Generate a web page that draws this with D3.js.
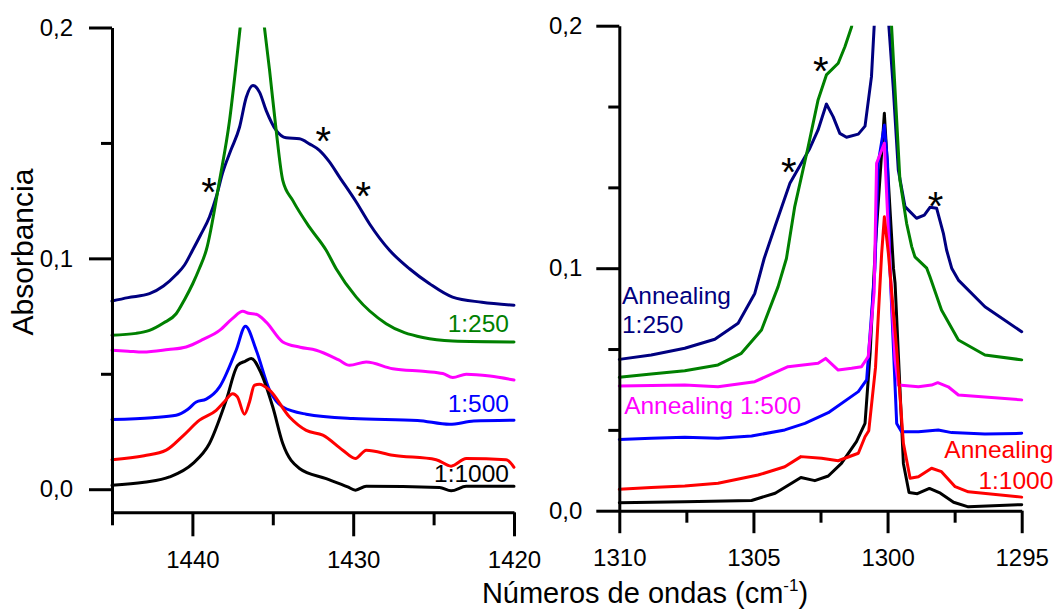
<!DOCTYPE html>
<html>
<head>
<meta charset="utf-8">
<script src="https://cdn.jsdelivr.net/npm/d3@7"></script>
<style>
  html, body { margin: 0; padding: 0; background: #fff; }
  svg { display: block; }
  text { font-family: "Liberation Sans", Arial, sans-serif; }
</style>
</head>
<body>
<svg id="chart" width="1054" height="610"></svg>
<script>
// ---------------- DATA ----------------
// Left panel: wavenumber (cm-1), absorbance
const leftNavy = [[1445,0.0815],[1444,0.083],[1442.67,0.0847],[1441.8,0.088],[1441.0,0.093],[1440.5,0.097],[1439.99,0.1035],[1439.5,0.110],[1438.94,0.1179],[1438.5,0.127],[1438.13,0.1368],[1437.6,0.147],[1437.07,0.1568],[1436.65,0.1698],[1436.24,0.1749],[1435.83,0.172],[1435.41,0.164],[1434.79,0.1554],[1434.17,0.1522],[1433.34,0.1518],[1432.7,0.1495],[1432.1,0.1468],[1431.5,0.142],[1430.85,0.1352],[1429.81,0.1244],[1428.99,0.115],[1427.74,0.1035],[1426.5,0.0955],[1425.25,0.089],[1423.82,0.0832],[1422,0.081],[1420,0.0797]];
const leftGreen = [[1445,0.0667],[1443.5,0.0675],[1442.67,0.0688],[1441.8,0.072],[1441.01,0.076],[1440.5,0.082],[1439.98,0.089],[1439.56,0.0957],[1439.14,0.1035],[1438.31,0.1338],[1437.69,0.1597],[1437.28,0.184],[1437.03,0.2],[1436.25,0.25],[1435.52,0.2],[1435.2,0.1814],[1434.79,0.1554],[1434.38,0.1338],[1433.76,0.1251],[1432.72,0.1135],[1431.68,0.1035],[1431.06,0.0955],[1429.81,0.0832],[1427.95,0.0717],[1425.67,0.0657],[1423.81,0.0642],[1420,0.0638]];
const leftMagenta = [[1445,0.0602],[1444,0.0598],[1443.08,0.0594],[1441.5,0.0605],[1440.39,0.0616],[1439.3,0.065],[1438.31,0.0688],[1437.5,0.074],[1436.87,0.0771],[1436.5,0.0762],[1436.03,0.0758],[1435.41,0.0724],[1434.38,0.0638],[1433.3,0.0615],[1432.3,0.0602],[1430.9,0.056],[1430.23,0.0537],[1429.19,0.0551],[1427.54,0.0522],[1425.5,0.051],[1424.43,0.0501],[1423.81,0.0484],[1422.97,0.0498],[1421.5,0.049],[1420,0.0473]];
const leftBlue = [[1445,0.0302],[1442.5,0.031],[1441.01,0.032],[1440.3,0.0345],[1439.76,0.0378],[1439.14,0.039],[1438.31,0.0443],[1437.28,0.0602],[1436.7,0.0706],[1436.03,0.0602],[1435.2,0.0429],[1434.38,0.0356],[1432.92,0.0325],[1430.03,0.0306],[1426,0.0298],[1424.01,0.0281],[1422.5,0.0295],[1420,0.0299]];
const leftRed = [[1445,0.0128],[1443,0.0145],[1441.63,0.0169],[1440.6,0.023],[1439.56,0.0299],[1438.52,0.0342],[1438.0,0.038],[1437.49,0.0414],[1437.2,0.04],[1436.76,0.0325],[1436.45,0.0378],[1436.15,0.045],[1435.83,0.0455],[1435.2,0.0429],[1433.96,0.0313],[1432.92,0.0255],[1431.89,0.0234],[1430.65,0.0169],[1429.86,0.0133],[1429.19,0.0169],[1427.54,0.0147],[1424.84,0.0128],[1423.91,0.01],[1422.97,0.0133],[1420.49,0.0128],[1420,0.0095]];
const leftBlack = [[1445,0.0017],[1443,0.003],[1441.42,0.0053],[1439.98,0.0111],[1438.94,0.0198],[1437.9,0.0385],[1437.18,0.0537],[1436.7,0.0555],[1436.34,0.0566],[1435.72,0.0501],[1435.0,0.0356],[1434.38,0.0198],[1433.34,0.009],[1431.68,0.0046],[1430.34,0.001],[1429.86,-0.0004],[1429.19,0.0013],[1424.63,0.0007],[1423.91,-0.0007],[1422.97,0.0013],[1420,0.0013]];

// Right panel
const rightNavy = [[1310,0.0624],[1308.81,0.0642],[1307.56,0.067],[1306.44,0.0707],[1305.57,0.0773],[1304.95,0.0896],[1304.6,0.104],[1304.2,0.1171],[1303.64,0.135],[1302.9,0.1494],[1302.59,0.157],[1302.28,0.1677],[1302.03,0.1625],[1301.78,0.1556],[1301.53,0.154],[1301.09,0.1553],[1300.84,0.1586],[1300.6,0.179],[1300.5,0.1996],[1300.25,0.25],[1299.95,0.1996],[1299.79,0.1748],[1299.6,0.1405],[1299.35,0.1254],[1298.92,0.1206],[1298.63,0.1219],[1298.42,0.1251],[1298.17,0.1247],[1297.92,0.1144],[1297.8,0.1075],[1297.61,0.1],[1297.36,0.0951],[1296.37,0.0841],[1295,0.0738]];
const rightGreen = [[1310,0.055],[1308.81,0.0564],[1307.56,0.0577],[1306.32,0.0601],[1305.45,0.0649],[1304.7,0.0745],[1304.08,0.0924],[1303.77,0.104],[1303.46,0.1254],[1302.96,0.1501],[1302.59,0.1694],[1302.28,0.1797],[1301.84,0.1845],[1301.59,0.1913],[1301.34,0.1996],[1300.3,0.3],[1299.85,0.1996],[1299.66,0.1611],[1299.54,0.1364],[1299.29,0.1185],[1299.1,0.1089],[1298.98,0.1047],[1298.54,0.1],[1298.42,0.0965],[1297.99,0.0828],[1297.36,0.0704],[1296.37,0.0642],[1295,0.0622]];
const rightMagenta = [[1310,0.0514],[1308.8,0.0516],[1307.56,0.0518],[1306.32,0.0511],[1304.95,0.0532],[1303.71,0.0594],[1302.59,0.0608],[1302.31,0.0628],[1301.84,0.058],[1301.34,0.0587],[1300.97,0.0594],[1300.72,0.0635],[1300.5,0.09],[1300.41,0.1433],[1300.12,0.1515],[1299.91,0.1],[1299.72,0.0621],[1299.6,0.0518],[1298.85,0.0511],[1298.36,0.0518],[1298.13,0.0528],[1297.74,0.0511],[1297.36,0.0477],[1295,0.0457]];
const rightBlue = [[1310,0.0294],[1308.81,0.0299],[1307.56,0.0303],[1306.32,0.0299],[1305.07,0.0308],[1303.83,0.0333],[1303.08,0.036],[1302.21,0.0404],[1301.09,0.0491],[1300.78,0.0539],[1300.47,0.1],[1300.35,0.1433],[1300.12,0.159],[1300.0,0.1433],[1299.91,0.1],[1299.66,0.036],[1299.48,0.0326],[1298.85,0.0326],[1298.11,0.0333],[1297.61,0.0322],[1296.37,0.0316],[1295,0.0319]];
const rightBlack = [[1310,0.0033],[1307.56,0.0037],[1305.07,0.0042],[1304.19,0.0072],[1303.58,0.0113],[1303.23,0.0137],[1302.71,0.0124],[1302.21,0.0143],[1301.72,0.0195],[1301.16,0.0285],[1300.84,0.036],[1300.65,0.065],[1300.45,0.11],[1300.12,0.1639],[1299.78,0.1],[1299.72,0.0938],[1299.41,0.0195],[1299.2,0.0075],[1298.89,0.007],[1298.44,0.0092],[1298.03,0.0072],[1297.54,0.0035],[1296.99,0.0016],[1295,0.0025]];
const rightRed = [[1310,0.0088],[1308.81,0.0096],[1307.56,0.0102],[1306.32,0.0113],[1304.83,0.0147],[1303.83,0.0181],[1303.23,0.0223],[1302.46,0.0216],[1301.84,0.0206],[1301.09,0.0237],[1300.84,0.0305],[1300.7,0.033],[1300.45,0.059],[1300.22,0.1061],[1300.12,0.1212],[1299.97,0.1061],[1299.66,0.0663],[1299.41,0.0278],[1299.16,0.0134],[1298.85,0.014],[1298.36,0.0175],[1297.99,0.0161],[1297.48,0.0099],[1296.99,0.0078],[1295,0.0056]];

// Axis ticks
const leftXMajor = [1440, 1430, 1420];
const leftXMinor = [1445, 1435, 1425];
const leftYMajor = [0, 0.1, 0.2];
const leftYMinor = [0.05, 0.15];
const rightXMajor = [1310, 1305, 1300, 1295];
const rightXMinor = [1307.5, 1302.5, 1297.5];
const rightYMajor = [0, 0.1, 0.2];
const rightYMinor = [0.2/6, 0.4/6, 0.8/6, 1.0/6];

// Labels (text, wavenumber, absorbance, anchor)
const leftLabels = [
  {t: "1:250", wn: 1420.31, a: 0.0682, c: "green", anchor: "end"},
  {t: "1:500", wn: 1420.31, a: 0.0336, c: "blue", anchor: "end"},
  {t: "1:1000", wn: 1420.31, a: 0.0032, c: "black", anchor: "end"}
];
const rightLabels = [
  {t: "Annealing", wn: 1309.9, a: 0.0852, c: "navy", anchor: "start"},
  {t: "1:250", wn: 1309.9, a: 0.0734, c: "navy", anchor: "start"},
  {t: "Annealing 1:500", wn: 1309.82, a: 0.0398, c: "magenta", anchor: "start"},
  {t: "Annealing", wn: 1293.82, a: 0.0216, c: "red", anchor: "end"},
  {t: "1:1000", wn: 1293.82, a: 0.0089, c: "red", anchor: "end"}
];
const leftStars = [[1438.97, 0.1325], [1431.86, 0.1549], [1429.37, 0.131]];
const rightStars = [[1303.68, 0.1435], [1302.49, 0.1852], [1298.21, 0.1292]];

const colors = {navy: "#000080", green: "#008000", magenta: "#ff00ff", blue: "#0000ff", red: "#ff0000", black: "#000000"};

// ---------------- DRAW ----------------
const svg = d3.select("#chart");
svg.append("rect").attr("width", 1054).attr("height", 610).attr("fill", "#fff");

const panels = [
  {
    id: "L",
    x: d3.scaleLinear().domain([1445, 1420]).range([112, 514]),
    y: d3.scaleLinear().domain([-0.01, 0.2]).range([512.3, 27.5]),
    series: [["navy", leftNavy], ["green", leftGreen], ["magenta", leftMagenta], ["blue", leftBlue], ["black", leftBlack], ["red", leftRed]],
    curve: d3.curveMonotoneX,
    xMajor: leftXMajor, xMinor: leftXMinor, yMajor: leftYMajor, yMinor: leftYMinor,
    xMajorLen: 24, xMinorLen: 13, yPad: 16, xPad: 15,
    labels: leftLabels, stars: leftStars
  },
  {
    id: "R",
    x: d3.scaleLinear().domain([1310, 1295]).range([619.3, 1021.7]),
    y: d3.scaleLinear().domain([0, 0.2]).range([510.7, 25.7]),
    series: [["navy", rightNavy], ["green", rightGreen], ["black", rightBlack], ["blue", rightBlue], ["magenta", rightMagenta], ["red", rightRed]],
    curve: d3.curveLinear,
    xMajor: rightXMajor, xMinor: rightXMinor, yMajor: rightYMajor, yMinor: rightYMinor,
    xMajorLen: 22.5, xMinorLen: 12, yPad: 14, xPad: 16,
    labels: rightLabels, stars: rightStars
  }
];

const fmt = d => d.toFixed(1).replace(".", ",");

panels.forEach(p => {
  const [x0, x1] = p.x.range();
  const [yb, yt] = p.y.range();
  const clipId = "clip" + p.id;
  svg.append("clipPath").attr("id", clipId)
    .append("rect").attr("x", x0 - 5).attr("y", yt).attr("width", x1 - x0 + 10).attr("height", yb - yt + 5);

  const g = svg.append("g").attr("clip-path", `url(#${clipId})`);
  const line = d3.line().x(d => p.x(d[0])).y(d => p.y(d[1])).curve(p.curve);
  p.series.forEach(([c, data]) => {
    const sorted = data.slice().sort((a, b) => a[0] - b[0]);
    g.append("path").attr("d", line(sorted))
      .attr("fill", "none").attr("stroke", colors[c])
      .attr("stroke-width", 3).attr("stroke-linejoin", "round").attr("stroke-linecap", "round");
  });

  // axes
  const styleAxis = sel => {
    sel.selectAll("path.domain").attr("stroke", "#000").attr("stroke-width", 3);
    sel.selectAll(".tick line").attr("stroke", "#000").attr("stroke-width", 3);
    sel.selectAll(".tick text").attr("fill", "#000").style("font-size", "24px")
      .style("font-family", '"Liberation Sans", Arial, sans-serif');
  };
  const yAxis = svg.append("g").attr("transform", `translate(${x0},0)`)
    .call(d3.axisLeft(p.y).tickValues(p.yMajor).tickSize(23).tickSizeOuter(0).tickPadding(p.yPad).tickFormat(fmt));
  styleAxis(yAxis);
  const yMinor = svg.append("g").attr("transform", `translate(${x0},0)`)
    .call(d3.axisLeft(p.y).tickValues(p.yMinor).tickSize(11).tickSizeOuter(0).tickFormat(""));
  yMinor.select("path.domain").remove();
  styleAxis(yMinor);

  const xAxis = svg.append("g").attr("transform", `translate(0,${yb})`)
    .call(d3.axisBottom(p.x).tickValues(p.xMajor).tickSize(p.xMajorLen).tickSizeOuter(0).tickPadding(p.xPad).tickFormat(d3.format("d")));
  styleAxis(xAxis);
  const xMinor = svg.append("g").attr("transform", `translate(0,${yb})`)
    .call(d3.axisBottom(p.x).tickValues(p.xMinor).tickSize(p.xMinorLen).tickSizeOuter(0).tickFormat(""));
  xMinor.select("path.domain").remove();
  styleAxis(xMinor);

  // labels
  p.labels.forEach(l => {
    svg.append("text").attr("x", p.x(l.wn)).attr("y", p.y(l.a))
      .attr("text-anchor", l.anchor).attr("fill", colors[l.c])
      .style("font-size", "24.5px").text(l.t);
  });
  // asterisks
  p.stars.forEach(s => {
    svg.append("text").attr("x", p.x(s[0])).attr("y", p.y(s[1]) + 23)
      .attr("text-anchor", "middle").attr("fill", "#000")
      .style("font-size", "40px").text("*");
  });
});

// axis titles
svg.append("text")
  .attr("transform", "translate(33,252) rotate(-90)")
  .attr("text-anchor", "middle").attr("fill", "#000")
  .style("font-size", "30px").text("Absorbancia");

const xt = svg.append("text").attr("x", 645).attr("y", 603)
  .attr("text-anchor", "middle").attr("fill", "#000").style("font-size", "29px");
xt.append("tspan").text("Números de ondas (cm");
xt.append("tspan").attr("dy", -12).style("font-size", "17px").text("-1");
xt.append("tspan").attr("dy", 12).text(")");
</script>
</body>
</html>
